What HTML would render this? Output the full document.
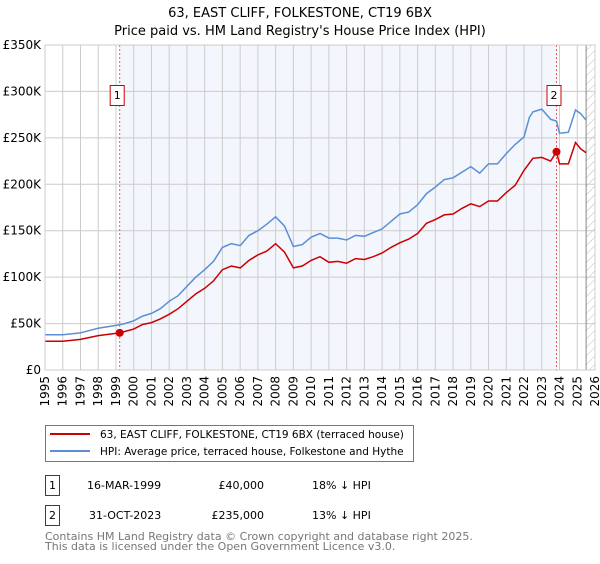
<!DOCTYPE html>
<html><head><meta charset="utf-8"><style>
body{margin:0;background:#fff;font-family:"DejaVu Sans","Liberation Sans",sans-serif;}
svg text{font-family:"DejaVu Sans","Liberation Sans",sans-serif;}
</style></head><body>
<svg id="c" width="600" height="560" xmlns="http://www.w3.org/2000/svg">
<defs><pattern id="hatch" width="6" height="6" patternUnits="userSpaceOnUse" patternTransform="rotate(45)"><line x1="0" y1="0" x2="0" y2="6" stroke="#bbb" stroke-width="1"/></pattern></defs>
<text x="300" y="17" text-anchor="middle" font-size="13">63, EAST CLIFF, FOLKESTONE, CT19 6BX</text>
<text x="300" y="35" text-anchor="middle" font-size="13">Price paid vs. HM Land Registry's House Price Index (HPI)</text>
<g id="plot"></g>
<g>
<rect x="45.5" y="425.5" width="368" height="36" fill="#fff" stroke="#777"/>
<line x1="50" y1="434" x2="90" y2="434" stroke="#cc0000" stroke-width="2"/>
<text x="100" y="438" font-size="10.5">63, EAST CLIFF, FOLKESTONE, CT19 6BX (terraced house)</text>
<line x1="50" y1="451" x2="90" y2="451" stroke="#5b8fd4" stroke-width="2"/>
<text x="100" y="455" font-size="10.5">HPI: Average price, terraced house, Folkestone and Hythe</text>
</g>
<g font-size="11">
<rect x="45.5" y="475.5" width="14" height="20" fill="#fff" stroke="#cc0000"/>
<text x="52.5" y="489" text-anchor="middle">1</text>
<text x="87" y="489">16-MAR-1999</text>
<text x="264" y="489" text-anchor="end">£40,000</text>
<text x="312" y="489">18% ↓ HPI</text>
<rect x="45.5" y="505.5" width="14" height="20" fill="#fff" stroke="#cc0000"/>
<text x="52.5" y="519" text-anchor="middle">2</text>
<text x="89" y="519">31-OCT-2023</text>
<text x="264" y="519" text-anchor="end">£235,000</text>
<text x="312" y="519">13% ↓ HPI</text>
</g>
<text x="45" y="540" font-size="11" fill="#777">Contains HM Land Registry data © Crown copyright and database right 2025.</text>
<text x="45" y="550" font-size="11" fill="#777">This data is licensed under the Open Government Licence v3.0.</text>
</svg>
<script>
const yTicks=[0,50,100,150,200,250,300,350];
const yTickLabels=["£0","£50K","£100K","£150K","£200K","£250K","£300K","£350K"];
const xYears=[1995,1996,1997,1998,1999,2000,2001,2002,2003,2004,2005,2006,2007,2008,2009,2010,2011,2012,2013,2014,2015,2016,2017,2018,2019,2020,2021,2022,2023,2024,2025,2026];
const hpiT=[1995,1996,1997,1998,1999,1999.5,2000,2000.5,2001,2001.5,2002,2002.5,2003,2003.5,2004,2004.5,2005,2005.5,2006,2006.5,2007,2007.5,2008,2008.5,2009,2009.5,2010,2010.5,2011,2011.5,2012,2012.5,2013,2013.5,2014,2014.5,2015,2015.5,2016,2016.5,2017,2017.5,2018,2018.5,2019,2019.5,2020,2020.5,2021,2021.5,2022,2022.3,2022.5,2023,2023.5,2023.83,2024,2024.5,2024.9,2025.2,2025.5];
const hpiV=[38,38,40,45,48,50,53,58,61,66,74,80,90,100,108,117,132,136,134,145,150,157,165,155,133,135,143,147,142,142,140,145,144,148,152,160,168,170,178,190,197,205,207,213,219,212,222,222,233,243,251,272,278,281,270,268,255,256,280,276,269];
const priceT=[1995,1996,1997,1998,1999.21,2000,2000.5,2001,2001.5,2002,2002.5,2003,2003.5,2004,2004.5,2005,2005.5,2006,2006.5,2007,2007.5,2008,2008.5,2009,2009.5,2010,2010.5,2011,2011.5,2012,2012.5,2013,2013.5,2014,2014.5,2015,2015.5,2016,2016.5,2017,2017.5,2018,2018.5,2019,2019.5,2020,2020.5,2021,2021.5,2022,2022.5,2023,2023.5,2023.83,2024,2024.5,2024.9,2025.2,2025.5];
const priceV=[31,31,33,37,40,44,49,51,55,60,66,74,82,88,96,108,112,110,118,124,128,136,127,110,112,118,122,116,117,115,120,119,122,126,132,137,141,147,158,162,167,168,174,179,176,182,182,191,199,215,228,229,225,235,222,222,245,238,234];
const saleT=[1999.21,2023.83];
const saleV=[40,235];
const saleLabels=["1","2"];
const X0=45,X1=595,Y0=370,Y1=45;
const xs=t=>X0+(t-1995)/31*(X1-X0);
const ys=v=>Y0-v/350*(Y0-Y1);
const NS="http://www.w3.org/2000/svg";
const g=document.getElementById('plot');
function mk(tag,attrs,parent){const e=document.createElementNS(NS,tag);for(const k in attrs)e.setAttribute(k,attrs[k]);(parent||g).appendChild(e);return e;}
let sh=mk('rect',{x:xs(saleT[0]),y:Y1,width:xs(saleT[1])-xs(saleT[0]),height:Y0-Y1,fill:'#f3f6fd'});


let ht=mk('rect',{x:xs(2025.5),y:Y1,width:X1-xs(2025.5),height:Y0-Y1,fill:'url(#hatch)'});


yTicks.forEach((v,i)=>{
 let l=mk('line',{x1:X0,x2:X1,y1:ys(v),y2:ys(v),stroke:'#ccc'});
 
 
 let t=mk('text',{x:X0-4,y:ys(v)+4,'text-anchor':'end','font-size':'12'});t.textContent=yTickLabels[i];
 
 
});
xYears.forEach(yr=>{
 let l=mk('line',{x1:xs(yr),x2:xs(yr),y1:Y1,y2:Y0,stroke:'#ccc'});
 
 
 let t=mk('text',{transform:`translate(${xs(yr)+4},${Y0+6}) rotate(-90)`,'text-anchor':'end','font-size':'12'});t.textContent=yr;
 
 
});
let hl=mk('line',{x1:xs(2025.5),x2:xs(2025.5),y1:Y1,y2:Y0,stroke:'#888'});


saleT.forEach(t=>{let l=mk('line',{x1:xs(t),x2:xs(t),y1:Y1,y2:Y0,stroke:'#e06060','stroke-dasharray':'2,2'});
 
 });
function path(T,V){return T.map((t,i)=>(i?'L':'M')+xs(t).toFixed(1)+','+ys(V[i]).toFixed(1)).join('');}
let hp=mk('path',{d:path(hpiT,hpiV),fill:'none',stroke:'#5b8fd4','stroke-width':1.5});


let pp=mk('path',{d:path(priceT,priceV),fill:'none',stroke:'#cc0000','stroke-width':1.5});


saleT.forEach((t,i)=>{
 let c=mk('circle',{cx:xs(t),cy:ys(saleV[i]),r:4,fill:'#cc0000'});
 
 
 let b=mk('rect',{x:xs(t)-9.5,y:85.5,width:14,height:20,fill:'#fff',stroke:'#cc0000'});
 
 
 let tx=mk('text',{x:xs(t)-2.5,y:99,'text-anchor':'middle','font-size':'11'});tx.textContent=saleLabels[i];
 
 
});
let fr=mk('rect',{x:X0,y:Y1,width:X1-X0,height:Y0-Y1,fill:'none',stroke:'#ccc'});


</script>
</body></html>
